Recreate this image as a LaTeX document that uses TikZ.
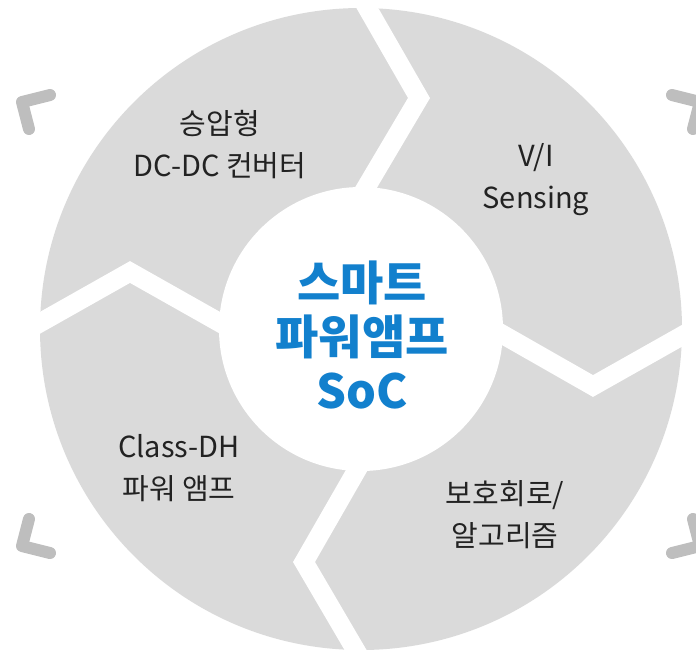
\documentclass[tikz,border=0pt]{standalone}
\usepackage{fontspec}
\setmainfont{Noto Sans CJK KR}
\definecolor{ringgray}{RGB}{218,218,218}
\definecolor{markgray}{RGB}{190,190,190}
\definecolor{txtdark}{RGB}{34,34,34}
\definecolor{socblue}{RGB}{18,128,205}
\tikzset{
  ringfill/.style={fill=ringgray, draw=none},
  gapline/.style={draw=white, line width=19pt, line join=miter, miter limit=10},
  cornermark/.style={draw=markgray, line width=12pt, line cap=round, line join=round},
  seglabel/.style={align=center, text=txtdark, font=\fontsize{29}{42}\selectfont, inner sep=0pt},
  corelabel/.style={align=center, text=socblue, font=\fontsize{47}{54}\selectfont\bfseries, inner sep=0pt}
}
\begin{document}
\begin{tikzpicture}[x=1pt,y=-1pt]
\useasboundingbox (0,0) rectangle (696,649);
% ring
\fill[ringgray] (361,329) circle[radius=321];
% gaps (chevrons)
\draw[gapline] (361,-3) -- (419,98) -- (361,196);
\draw[gapline] (493,329) -- (593,386) -- (694,329);
\draw[gapline] (362,461) -- (304,562) -- (362,661);
\draw[gapline] (29,329) -- (130,272) -- (231,329);
% inner circle
\fill[white] (361,329) circle[radius=142];
% corner marks
\draw[cornermark] (50,95) -- (22,102) -- (29,129);
\draw[cornermark] (672,95) -- (700,102) -- (693,129);
\draw[cornermark] (29,519) -- (22,546) -- (50,553);
\draw[cornermark] (693,519) -- (700,546) -- (672,553);
% labels
\node[seglabel] (boost) at (220,145) {승압형\\DC-DC 컨버터};
\node[seglabel] (sense) at (536,180) {V/I\\Sensing};
\node[seglabel] (amp) at (179,468) {Class-DH\\파워 앰프};
\node[seglabel] (prot) at (505,515) {보호회로/\\알고리즘};
\node[corelabel] (core) at (362,335) {스마트\\파워앰프\\SoC};
\end{tikzpicture}
\end{document}
